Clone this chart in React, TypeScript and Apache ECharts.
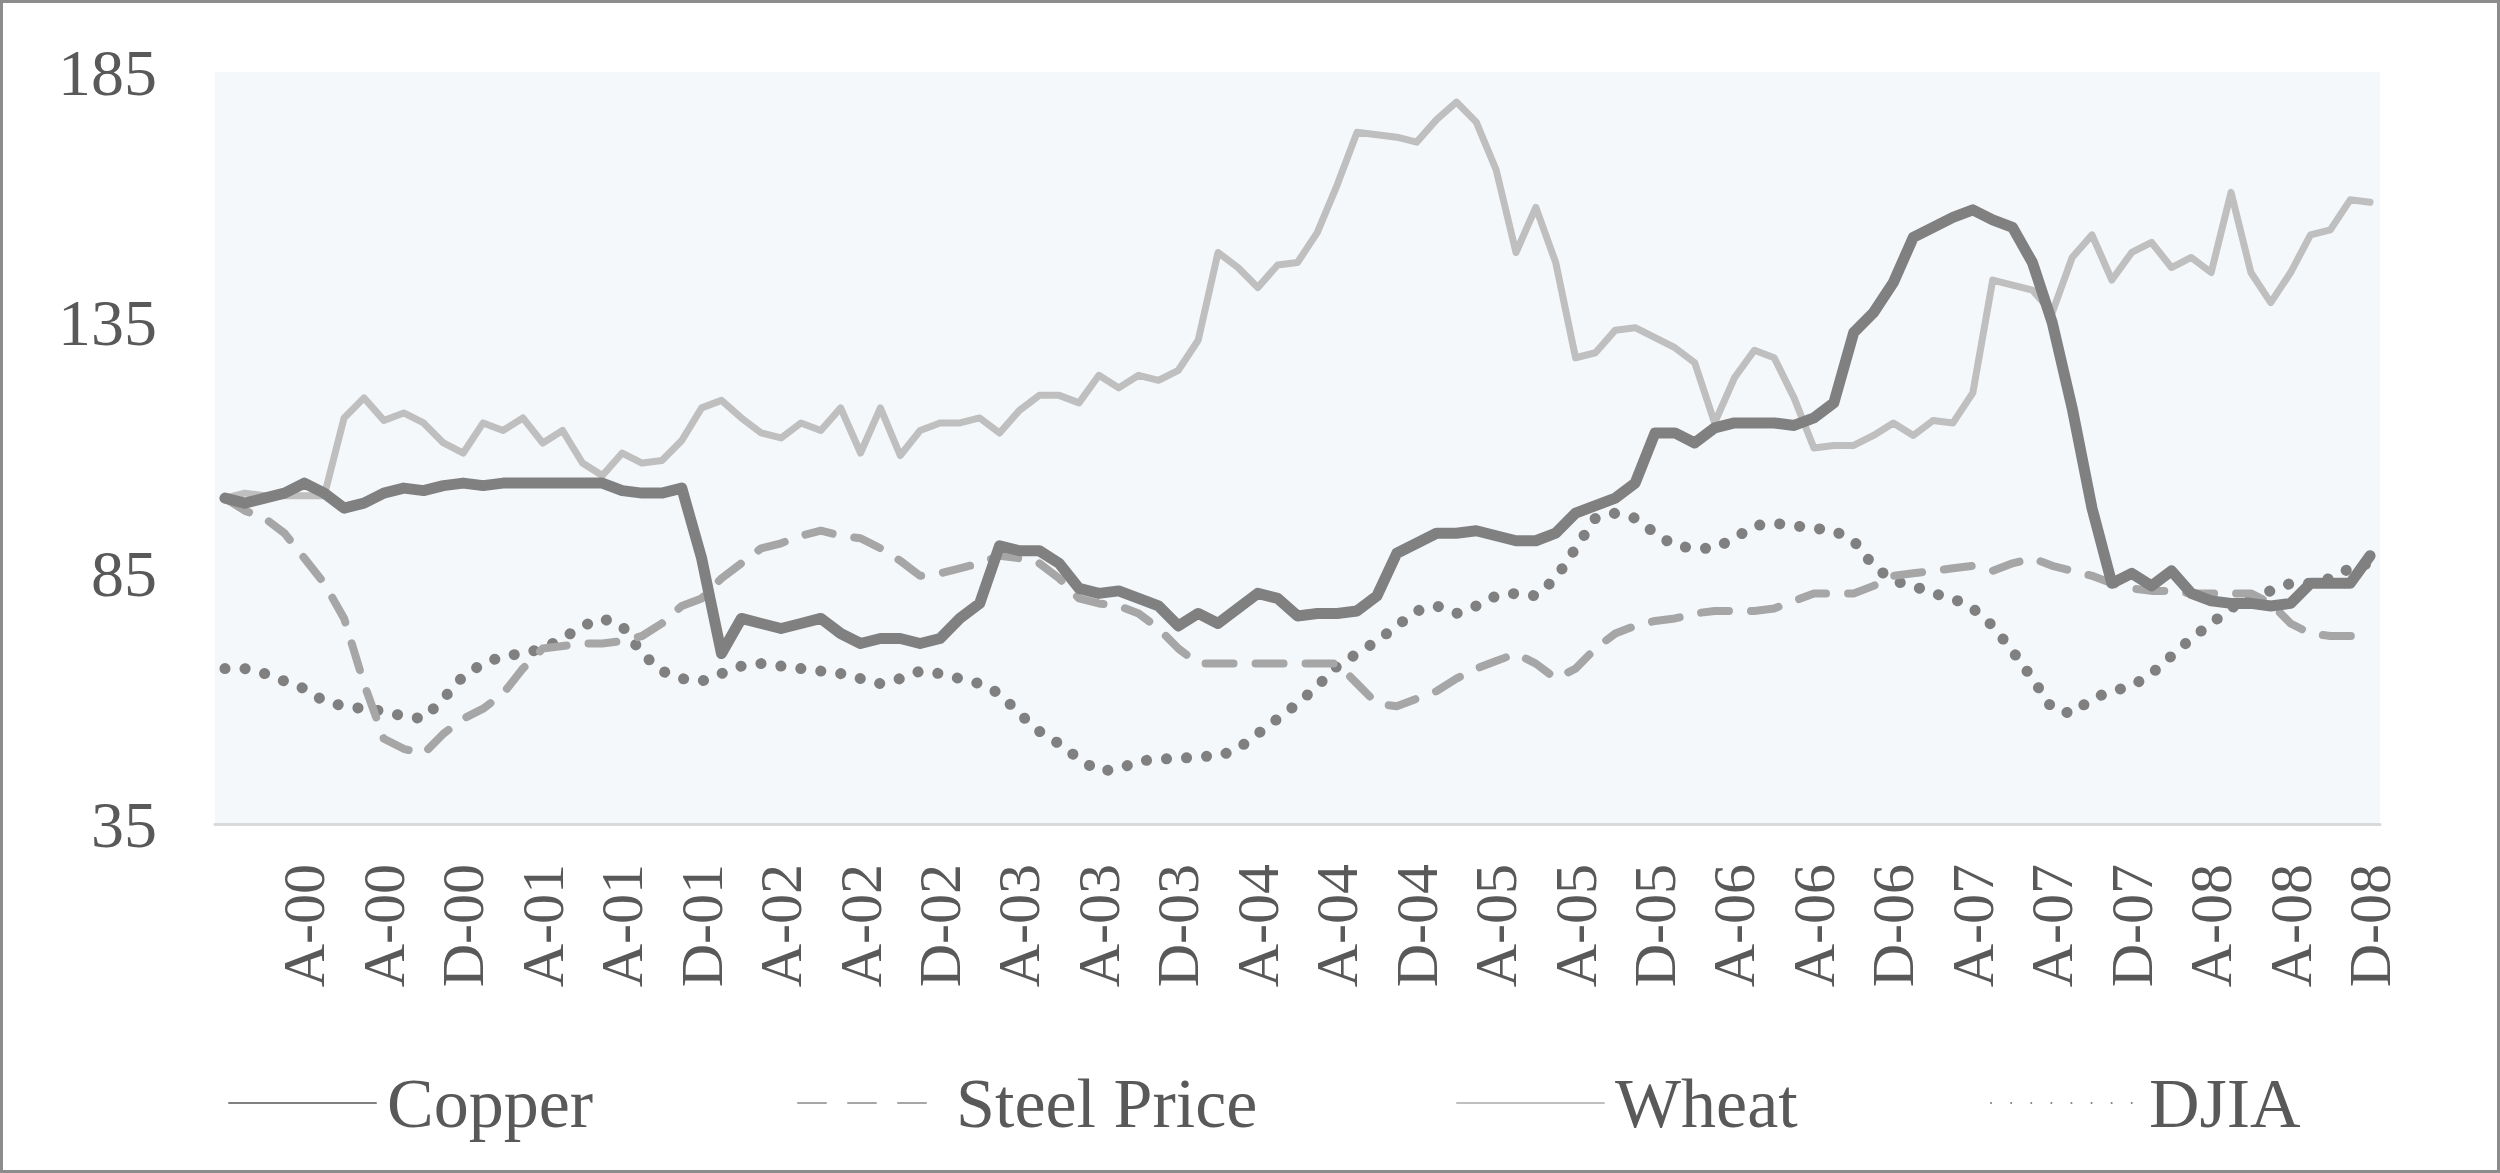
import React, { useEffect, useRef } from 'react';
import * as echarts from 'echarts';

// monthly, Dec-99 .. Dec-08
const MONTH_LETTERS = ['J', 'F', 'M', 'A', 'M', 'J', 'J', 'A', 'S', 'O', 'N', 'D'];
const months: string[] = [];
for (let i = 0; i < 109; i++) {
  const m = (11 + i) % 12;
  const y = 1999 + Math.floor((11 + i) / 12);
  months.push(`${MONTH_LETTERS[m]}-${String(y % 100).padStart(2, '0')}`);
}

const copper = [
  100, 99, 100, 101, 103, 101, 98, 99, 101, 102, 101.5, 102.5, 103, 102.5, 103, 103, 103, 103, 103, 103,
  101.5, 101, 101, 102, 88, 69, 76, 75, 74, 75, 76, 73, 71, 72, 72, 71, 72, 76, 79, 90.5,
  89.5, 89.5, 87, 82, 81, 81.5, 80, 78.5, 74.5, 77, 75, 78, 81, 80, 76.5, 77, 77, 77.5, 80.5, 89,
  91, 93, 93, 93.5, 92.5, 91.5, 91.5, 93, 97, 98.5, 100, 103, 113, 113, 111, 114, 115, 115, 115, 114.5,
  116, 119, 133, 137, 143, 152, 154, 156, 157.5, 155.5, 154, 147, 135, 118, 98, 83, 85, 82.5, 85.5, 81,
  79.5, 79, 79, 78.5, 79, 83, 83, 83, 88.5,
];

const steel = [
  100, 97.5, 96, 93, 88, 83, 76, 63, 52, 50, 49, 53, 56, 58, 61, 66, 70, 70.5, 71, 71,
  71.5, 72.5, 75, 78.5, 80, 84, 87, 90, 91, 92.5, 93.5, 92.5, 92, 90, 87.5, 84.5, 85, 86, 87, 88.5,
  88, 87, 84, 80, 79, 78.5, 77, 74, 70, 67, 67, 67, 67, 67, 67, 67, 67, 63, 59, 58.5,
  60, 61.5, 64, 66, 67.5, 69, 67, 64, 66, 70, 73, 74.5, 75.5, 76, 77, 77.5, 77.5, 77.5, 78, 79.5,
  81, 81, 81, 82.5, 84.5, 85, 85.5, 86, 86.5, 85.5, 87, 88, 86.5, 85.5, 84.5, 83, 82, 81.5, 81.5, 81,
  81, 81, 81, 79, 75, 73, 72.5, 72.5, 72.5,
];

const wheat = [
  100, 101, 100.5, 100.5, 100.5, 100.5, 116, 120, 115.5, 117, 115, 111, 109, 115, 113.5, 116, 111, 113.5, 107, 104.5,
  109, 107, 107.5, 111.5, 118, 119.5, 116, 113, 112, 115, 113.5, 118, 109, 118, 108.5, 113.5, 115, 115, 116, 113,
  117.5, 120.5, 120.5, 119, 124.5, 122, 124.5, 123.5, 125.5, 131.5, 149, 146, 142, 146.5, 147, 153, 162.5, 173, 172.5, 172,
  171, 175.5, 179, 175, 165.5, 149, 158, 147, 128, 129, 133.5, 134, 132, 130, 127, 115, 124, 129.5, 128, 120,
  110, 110.5, 110.5, 112.5, 115, 112.5, 115.5, 115, 121, 143.5, 142.5, 141.5, 137, 148, 152.5, 143.5, 149, 151, 146, 148,
  145, 161, 145, 139, 145, 152.5, 153.5, 159.5, 159,
];

const djia = [
  66, 66, 65, 63.5, 62, 59.5, 58.5, 58, 57.5, 56.5, 56, 60, 64.5, 67, 68.5, 69, 70, 72, 74.5, 76,
  74.5, 69, 65.5, 64, 63.5, 65, 66.5, 67, 66.5, 66, 65.5, 65, 64, 63, 64, 65.5, 65, 64, 63, 61,
  57, 53.5, 51, 48, 45.5, 46, 47.5, 48, 48, 48.5, 48.5, 50, 53, 56, 59, 62.5, 66.5, 69, 71.5, 74.5,
  77.5, 78.5, 77, 78.5, 80.5, 81, 80.5, 84, 90, 96, 97, 96, 93, 90.5, 90, 90, 92, 94.5, 95, 94.5,
  94, 93.5, 91.5, 86.5, 83.5, 82.5, 81, 80, 78, 74.5, 69.5, 64, 58, 57, 60, 61.5, 62.5, 65, 68.5, 72,
  75, 78, 80.5, 81.5, 83, 83, 84, 86, 87,
];

const FONT = '"Liberation Serif", "DejaVu Serif", serif';
const TEXT = '#595959';

const App: React.FC = () => {
  const chartRef = useRef<HTMLDivElement>(null);

  useEffect(() => {
    document.body.style.margin = '0';
    if (!chartRef.current) return;
    const chart = echarts.init(chartRef.current, undefined, { renderer: 'svg' });

    const legendBase = {
      top: 1060,
      itemWidth: 147,
      itemHeight: 14,
      itemStyle: { opacity: 0 },
      textStyle: { fontFamily: FONT, fontSize: 70, color: TEXT, padding: [0, 0, 0, 6] },
    };

    chart.setOption({
      animation: false,
      grid: {
        left: 212,
        top: 69,
        right: 117,
        bottom: 346,
        show: true,
        backgroundColor: '#f5f8fb',
        borderWidth: 0,
      },
      legend: [
        { ...legendBase, left: 220, data: ['Copper'] },
        { ...legendBase, left: 789, data: ['Steel Price'] },
        { ...legendBase, left: 1448, data: ['Wheat'] },
        { ...legendBase, left: 1982, data: ['DJIA'] },
      ],
      xAxis: {
        type: 'category',
        data: months,
        boundaryGap: true,
        axisLine: { lineStyle: { color: '#d9d9d9', width: 3 } },
        axisTick: {
          length: 19,
          interval: (i: number) => i % 4 === 0,
          lineStyle: { color: '#d9d9d9', width: 3 },
        },
        axisLabel: {
          interval: (i: number) => i % 4 === 0 && i > 0,
          rotate: 90,
          margin: 40,
          fontFamily: FONT,
          fontSize: 60,
          color: TEXT,
        },
        splitLine: { show: false },
      },
      yAxis: {
        type: 'value',
        min: 35,
        max: 185,
        interval: 50,
        axisLine: { show: false },
        axisTick: { show: false },
        splitLine: { show: false },
        axisLabel: { margin: 58, fontFamily: FONT, fontSize: 66, color: TEXT },
      },
      series: [
        {
          name: 'Copper',
          type: 'line',
          data: copper,
          symbol: 'none',
          lineStyle: { color: '#808080', width: 11, cap: 'round', join: 'round' },
          itemStyle: { color: '#808080' },
          z: 4,
        },
        {
          name: 'Steel Price',
          type: 'line',
          data: steel,
          symbol: 'none',
          lineStyle: { color: '#a6a6a6', width: 8, type: [28, 22], cap: 'round', join: 'round' },
          itemStyle: { color: '#a6a6a6' },
          z: 2,
        },
        {
          name: 'Wheat',
          type: 'line',
          data: wheat,
          symbol: 'none',
          lineStyle: { color: '#bfbfbf', width: 7, cap: 'round', join: 'round' },
          itemStyle: { color: '#bfbfbf' },
          z: 3,
        },
        {
          name: 'DJIA',
          type: 'line',
          data: djia,
          symbol: 'none',
          lineStyle: { color: '#808080', width: 11, type: [0.1, 20], cap: 'round', join: 'round' },
          itemStyle: { color: '#808080' },
          z: 1,
        },
      ],
    });

    return () => chart.dispose();
  }, []);

  return (
    <div
      style={{
        width: 2500,
        height: 1173,
        boxSizing: 'border-box',
        border: '3px solid #8c8c8c',
        background: '#fff',
      }}
    >
      <div ref={chartRef} style={{ width: '100%', height: '100%' }} />
    </div>
  );
};

export default App;
